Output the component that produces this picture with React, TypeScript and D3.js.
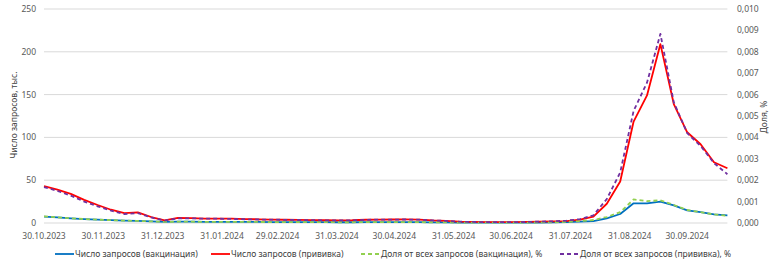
import React from "react";
import * as d3 from "d3";

const startDate = new Date(2023, 9, 30);
const weeks = 52;

const countVaccination = [7.5, 6.5, 5.5, 4.6, 3.9, 3.3, 2.8, 2.4, 1.9, 1.3, 1.5, 1.5, 1.4, 1.3, 1.3, 1.2, 1.2, 1.1, 1.1, 1.0, 1.0, 1.0, 0.9, 0.9, 1.0, 1.0, 1.0, 1.0, 1.0, 0.8, 0.7, 0.5, 0.5, 0.4, 0.4, 0.4, 0.5, 0.6, 0.8, 1.1, 1.6, 2.3, 5.5, 10.5, 23, 23, 25, 20.5, 14.8, 12.7, 10, 8.8];
const countPrivivka = [43, 39, 34, 27, 21, 15.5, 11.5, 12.5, 7, 3, 6, 5.8, 5.2, 5.2, 5, 4.6, 4.3, 4, 3.8, 3.6, 3.4, 3.2, 3, 3.2, 3.8, 4, 4.1, 4.2, 4, 3, 2.5, 1.5, 1.2, 1, 1, 1, 1.2, 1.5, 1.8, 2.2, 4, 7.5, 22.5, 48.5, 118.5, 149, 209, 139, 106, 92, 71, 64];
const shareVaccination = [0.000312, 0.000268, 0.000224, 0.000184, 0.000156, 0.000132, 0.000112, 0.000096, 0.000076, 0.000052, 0.00006, 0.00006, 0.000056, 0.000052, 0.000052, 0.000048, 0.000048, 0.000044, 0.000044, 0.00004, 0.00004, 0.00004, 0.000036, 0.000036, 0.00004, 0.00004, 0.00004, 0.00004, 0.00004, 0.000032, 0.000028, 0.00002, 0.00002, 0.000016, 0.000016, 0.000016, 0.00002, 0.000024, 0.000032, 0.000052, 0.000092, 0.00014, 0.00028, 0.000508, 0.0011, 0.00102, 0.00106, 0.00084, 0.000608, 0.000508, 0.0004, 0.000336];
const sharePrivivka = [0.00168, 0.0015, 0.00128, 0.001, 0.00078, 0.00058, 0.00042, 0.00046, 0.00026, 0.00011, 0.00022, 0.00022, 0.0002, 0.0002, 0.00019, 0.000176, 0.000164, 0.000156, 0.000148, 0.00014, 0.000132, 0.000124, 0.000116, 0.000124, 0.000148, 0.000156, 0.00016, 0.000164, 0.000156, 0.00012, 0.000096, 0.00006, 0.000048, 0.00004, 0.00004, 0.00004, 0.000048, 0.000064, 0.00008, 0.000112, 0.00018, 0.00036, 0.00112, 0.00236, 0.00524, 0.00656, 0.00884, 0.00564, 0.0042, 0.0036, 0.0028, 0.00228];

const xTickLabels = ["30.10.2023", "30.11.2023", "31.12.2023", "31.01.2024", "29.02.2024", "31.03.2024", "30.04.2024", "31.05.2024", "30.06.2024", "31.07.2024", "31.08.2024", "30.09.2024"];
const leftTicks = [0, 50, 100, 150, 200, 250];
const rightTicks = [0, 0.001, 0.002, 0.003, 0.004, 0.005, 0.006, 0.007, 0.008, 0.009, 0.01];

const seriesNames = ["Число запросов (вакцинация)", "Число запросов (прививка)", "Доля от всех запросов (вакцинация), %", "Доля от всех запросов (прививка), %"];
const seriesColors = ["#0070C0", "#FF0000", "#92D050", "#7030A0"];

const W = 780, H = 266;
const left = 44, right = 727.4, top = 9, bottom = 223;
const FONT = "'Noto Sans', 'Open Sans', sans-serif";
const FS = 8.5;

function parseDate(s: string) {
  const [d, m, y] = s.split(".").map(Number);
  return new Date(y, m - 1, d);
}

export default function App() {
  const dates = d3.range(weeks).map((i) => d3.timeDay.offset(startDate, i * 7));
  const x = d3.scaleTime().domain([dates[0], dates[dates.length - 1]]).range([left, right]);
  const yL = d3.scaleLinear().domain([0, 250]).range([bottom, top]);
  const yR = d3.scaleLinear().domain([0, 0.01]).range([bottom, top]);

  const lineL = d3.line<number>().x((_, i) => x(dates[i])).y((v) => yL(v));
  const lineR = d3.line<number>().x((_, i) => x(dates[i])).y((v) => yR(v));

  const series = [
    { d: lineL(countVaccination), dash: undefined },
    { d: lineL(countPrivivka), dash: undefined },
    { d: lineR(shareVaccination), dash: "4 3" },
    { d: lineR(sharePrivivka), dash: "4 3" },
  ];

  const fmtR = (v: number) => v.toFixed(3).replace(".", ",");

  const legendY = 254;
  const legendStarts = [55, 211, 361, 560];

  return (
    <div style={{ position: "fixed", left: 0, top: 0, width: W, height: H, background: "#fff" }}>
      <svg width={W} height={H} style={{ display: "block" }} fontFamily={FONT}>
        <rect x={0} y={0} width={W} height={H} fill="#fff" />
        {leftTicks.map((t) => (
          <line key={"g" + t} x1={left} x2={right} y1={yL(t)} y2={yL(t)} stroke="#D9D9D9" strokeWidth={1} />
        ))}
        {leftTicks.map((t) => (
          <text key={"l" + t} x={36} y={yL(t)} dy="0.35em" textAnchor="end" fontSize={FS} fill="#595959">{t}</text>
        ))}
        {rightTicks.map((t) => (
          <text key={"r" + t} x={737} y={yR(t)} dy="0.35em" textAnchor="start" fontSize={FS} fill="#595959">{fmtR(t)}</text>
        ))}
        {xTickLabels.map((s) => (
          <text key={s} x={x(parseDate(s))} y={239} textAnchor="middle" fontSize={FS} fill="#595959">{s}</text>
        ))}
        <text transform={`translate(14,115) rotate(-90)`} textAnchor="middle" dy="0.35em" fontSize={FS} fill="#404040">Число запросов, тыс.</text>
        <text transform={`translate(764,117) rotate(-90)`} textAnchor="middle" dy="0.35em" fontSize={FS} fill="#404040">Доля, %</text>
        {series.map((s, i) => (
          <path key={i} d={s.d || ""} fill="none" stroke={seriesColors[i]} strokeWidth={1.8} strokeDasharray={s.dash} strokeLinejoin="round" />
        ))}
        {seriesNames.map((n, i) => (
          <g key={n}>
            <line x1={legendStarts[i]} x2={legendStarts[i] + 19} y1={legendY} y2={legendY} stroke={seriesColors[i]} strokeWidth={1.8} strokeDasharray={i >= 2 ? "4 3" : undefined} />
            <text x={legendStarts[i] + 20} y={legendY} dy="0.35em" fontSize={FS} fill="#404040">{n}</text>
          </g>
        ))}
      </svg>
    </div>
  );
}
